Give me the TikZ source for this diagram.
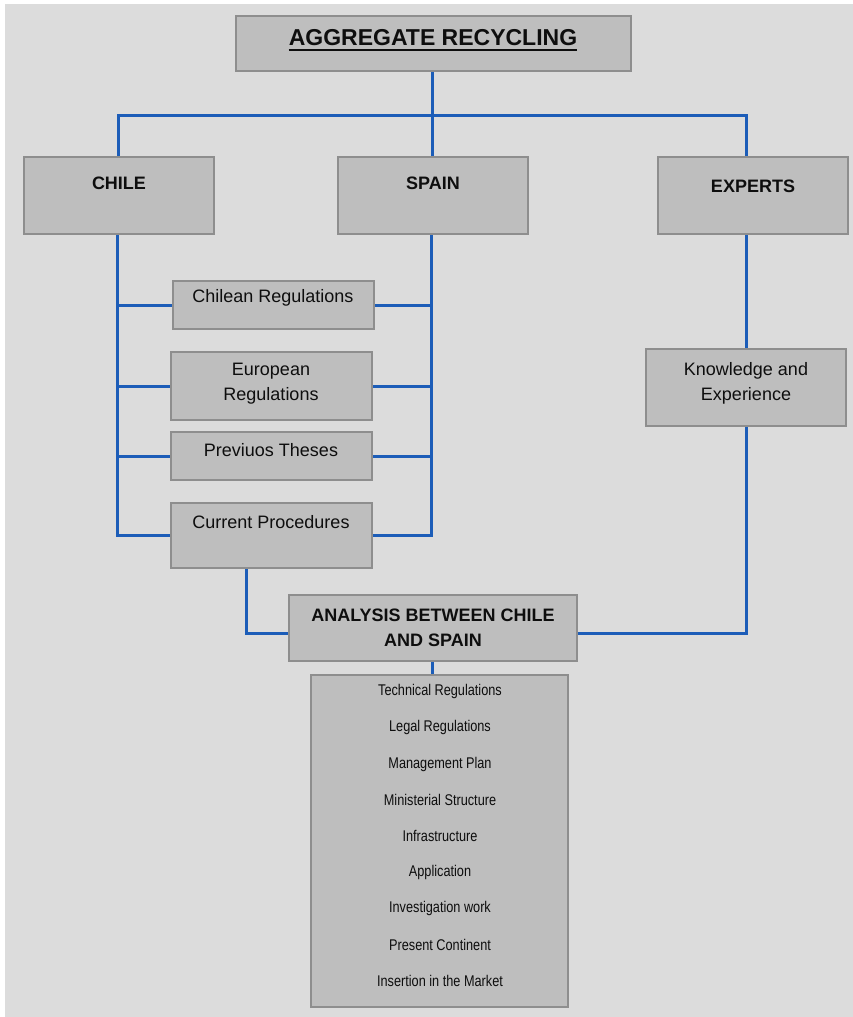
\documentclass[tikz,border=0pt]{standalone}
\usepackage{fontspec}
\setmainfont{Liberation Sans}
\newfontfamily\narrowfont[FakeStretch=0.82]{Liberation Sans}
\definecolor{bgc}{HTML}{DCDCDC}
\definecolor{boxc}{HTML}{BEBEBE}
\definecolor{edgec}{HTML}{8E8E8E}
\definecolor{linkc}{HTML}{1C5DB8}
\definecolor{txtc}{HTML}{0E0E0E}
\tikzset{
  boxnode/.style={draw=edgec, line width=1.2pt, fill=boxc, inner sep=0pt, rectangle},
  lbl/.style={inner sep=0pt, text=txtc, align=center, font=\fontsize{18}{25}\selectfont},
  blbl/.style={lbl, font=\fontsize{18}{25}\selectfont\bfseries},
  item/.style={inner sep=0pt, text=txtc, font=\narrowfont\fontsize{15.5}{18}\selectfont},
  link/.style={draw=linkc, line width=3pt}
}
\begin{document}
\begin{tikzpicture}[x=1pt,y=-1pt]
\useasboundingbox (0,0) rectangle (853,1017);
\fill[white] (0,0) rectangle (853,1017);
\fill[bgc] (5,4) rectangle (853,1017);

\coordinate (titlebot) at (432,71);
\coordinate (anabot) at (432,661);

% boxes
\node[boxnode, minimum width=395pt, minimum height=55pt] (title) at (433.5,43.5) {};
\node[boxnode, minimum width=190pt, minimum height=77pt] (chile) at (119,195.5) {};
\node[boxnode, minimum width=190pt, minimum height=77pt] (spain) at (433,195.5) {};
\node[boxnode, minimum width=190pt, minimum height=77pt] (experts) at (753,195.5) {};
\node[boxnode, minimum width=201pt, minimum height=48pt] (chil) at (273.5,305) {};
\node[boxnode, minimum width=201pt, minimum height=68pt] (euro) at (271.5,386) {};
\node[boxnode, minimum width=201pt, minimum height=48pt] (prev) at (271.5,456) {};
\node[boxnode, minimum width=201pt, minimum height=65pt] (cur) at (271.5,535.5) {};
\node[boxnode, minimum width=288pt, minimum height=66pt] (ana) at (433,628) {};
\node[boxnode, minimum width=200pt, minimum height=77pt] (know) at (746,387.5) {};
\node[boxnode, minimum width=257pt, minimum height=332pt] (list) at (439.5,841) {};

% connectors
\draw[link] (title.south -| titlebot) -- ++(0,44) coordinate (bus);
\draw[link] ([xshift=-1pt]chile.north) -- ([xshift=-1pt]chile.north |- bus) -- (bus) -| (know.north |- experts.north);
\draw[link] (spain.north -| bus) -- (bus);
\draw[link] ([xshift=-2pt]chile.south) -- ([xshift=-2pt]chile.south |- cur.west) -- (cur.west);
\draw[link] ([xshift=-2pt]chile.south |- chil.west) -- (chil.west);
\draw[link] ([xshift=-2pt]chile.south |- euro.west) -- (euro.west);
\draw[link] ([xshift=-2pt]chile.south |- prev.west) -- (prev.west);
\draw[link] ([xshift=-2pt]spain.south) -- ([xshift=-2pt]spain.south |- cur.east) -- (cur.east);
\draw[link] ([xshift=-2pt]spain.south |- chil.east) -- (chil.east);
\draw[link] ([xshift=-2pt]spain.south |- euro.east) -- (euro.east);
\draw[link] ([xshift=-2pt]spain.south |- prev.east) -- (prev.east);
\draw[link] ([xshift=-25.5pt]cur.south) |- ([yshift=-5pt]ana.west);
\draw[link] ([yshift=-5pt]ana.east) -| (know.south);
\draw[link] (know.north |- experts.south) -- (know.north);
\draw[link] (anabot) -- (anabot |- list.north);

% box edges over the line ends
\foreach \n in {title,chile,spain,experts,chil,euro,prev,cur,ana,know,list}
  \draw[edgec, line width=1.2pt] (\n.north west) rectangle (\n.south east);

% texts
\node[lbl, font=\fontsize{23}{28}\selectfont\bfseries] (ttl) at (433,38) {AGGREGATE RECYCLING};
\draw[txtc, line width=1.8pt] ([yshift=-4pt]ttl.base west) -- ([yshift=-4pt]ttl.base east);
\node[blbl] (chilet) at (119,183) {CHILE};
\node[blbl] (spaint) at (433,183) {SPAIN};
\node[blbl] (expertst) at (753,186) {EXPERTS};
\node[lbl] (chilt) at (273,298) {Chilean Regulations};
\node[lbl] (eurot) at (271,384) {European\\Regulations};
\node[lbl] (prevt) at (271,450) {Previuos Theses};
\node[lbl] (curt) at (271,522) {Current Procedures};
\node[blbl] (anat) at (433,628) {ANALYSIS BETWEEN CHILE\\AND SPAIN};
\node[lbl] (knowt) at (746,383) {Knowledge and\\Experience};

\node[item] (i1) at (440,691) {Technical Regulations};
\node[item] (i2) at (440,727) {Legal Regulations};
\node[item] (i3) at (440,764) {Management Plan};
\node[item] (i4) at (440,800) {Ministerial Structure};
\node[item] (i5) at (440,836) {Infrastructure};
\node[item] (i6) at (440,872) {Application};
\node[item] (i7) at (440,908) {Investigation work};
\node[item] (i8) at (440,945) {Present Continent};
\node[item] (i9) at (440,981) {Insertion in the Market};
\end{tikzpicture}
\end{document}
